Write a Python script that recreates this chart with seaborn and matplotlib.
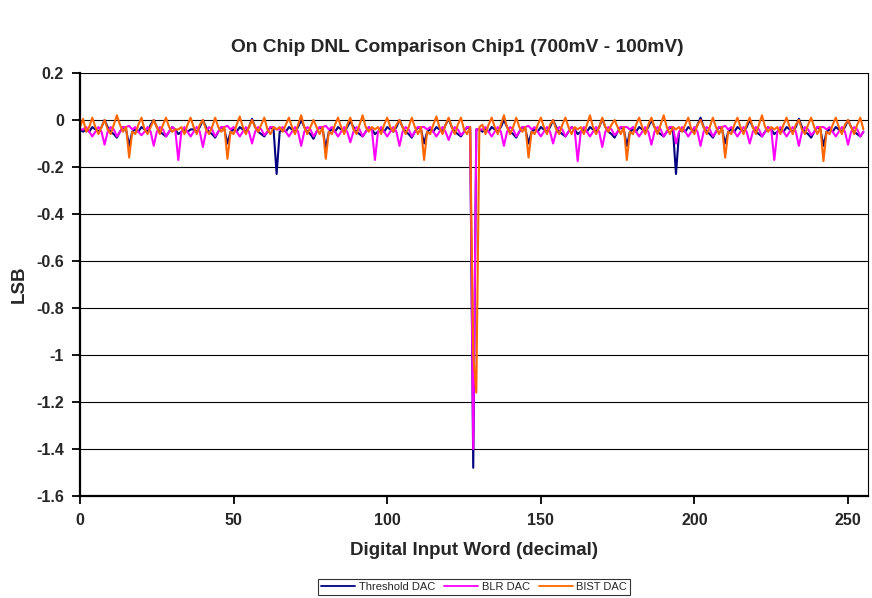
import numpy as np
import pandas as pd
import matplotlib
matplotlib.use("Agg")
import matplotlib.pyplot as plt
import seaborn as sns

# DNL per digital input word (LSB), codes 0..255
codes = list(range(256))

threshold_dac = [
    -0.04, -0.05, -0.04, -0.05, -0.03, -0.04, -0.05, -0.03, 0.00, -0.03, -0.05, -0.06, -0.075, -0.05, -0.03, -0.04,
    -0.11, -0.05, -0.04, -0.05, -0.03, -0.04, -0.05, -0.02, 0.00, -0.03, -0.05, -0.06, -0.07, -0.05, -0.03, -0.04,
    -0.06, -0.05, -0.04, -0.05, -0.04, -0.04, -0.05, -0.03, 0.00, -0.03, -0.05, -0.06, -0.075, -0.05, -0.03, -0.04,
    -0.10, -0.05, -0.04, -0.05, -0.03, -0.04, -0.05, -0.03, 0.005, -0.03, -0.05, -0.06, -0.07, -0.05, -0.03, -0.04,
    -0.23, -0.05, -0.04, -0.05, -0.03, -0.04, -0.05, -0.03, 0.00, -0.03, -0.05, -0.06, -0.08, -0.05, -0.03, -0.04,
    -0.12, -0.05, -0.04, -0.05, -0.03, -0.04, -0.05, -0.03, -0.005, -0.03, -0.05, -0.06, -0.07, -0.05, -0.03, -0.04,
    -0.06, -0.05, -0.04, -0.05, -0.03, -0.04, -0.05, -0.03, 0.00, -0.03, -0.05, -0.06, -0.075, -0.05, -0.03, -0.04,
    -0.10, -0.05, -0.04, -0.05, -0.03, -0.04, -0.05, -0.02, 0.005, -0.03, -0.05, -0.06, -0.07, -0.05, -0.03, -0.04,
    -1.48, -0.04,
    -0.04, -0.05, -0.04, -0.05, -0.03, -0.04, -0.05, -0.03, 0.00, -0.03, -0.05, -0.06, -0.075, -0.05, -0.03, -0.04,
    -0.10, -0.05, -0.04, -0.05, -0.03, -0.04, -0.05, -0.03, 0.00, -0.03, -0.05, -0.06, -0.07, -0.05, -0.03, -0.04,
    -0.06, -0.05, -0.04, -0.05, -0.03, -0.04, -0.05, -0.03, 0.005, -0.03, -0.05, -0.06, -0.075, -0.05, -0.03, -0.04,
    -0.11, -0.05, -0.04, -0.05, -0.03, -0.04, -0.05, -0.03, 0.00, -0.03, -0.05, -0.06, -0.07, -0.05, -0.03, -0.04,
    -0.23, -0.05, -0.04, -0.05, -0.03, -0.04, -0.05, -0.02, 0.01, -0.03, -0.05, -0.06, -0.075, -0.05, -0.03, -0.04,
    -0.10, -0.05, -0.04, -0.05, -0.03, -0.04, -0.05, -0.03, 0.00, -0.03, -0.05, -0.06, -0.07, -0.05, -0.03, -0.04,
    -0.06, -0.05, -0.04, -0.05, -0.03, -0.04, -0.05, -0.03, 0.005, -0.03, -0.05, -0.06, -0.075, -0.05, -0.03, -0.04,
    -0.11, -0.05, -0.04, -0.05, -0.03, -0.04, -0.05, -0.03, 0.00, -0.03, -0.05, -0.06, -0.07, -0.05,
]

blr_dac = [
    -0.04, -0.04, -0.03, -0.05, -0.07, -0.05, -0.03, -0.05, -0.105, -0.05, -0.03, -0.04, -0.07, -0.05, -0.03, -0.03,
    -0.025, -0.04, -0.03, -0.05, -0.065, -0.05, -0.03, -0.05, -0.11, -0.05, -0.03, -0.04, -0.07, -0.05, -0.03, -0.04,
    -0.17, -0.05, -0.03, -0.05, -0.07, -0.05, -0.03, -0.05, -0.115, -0.05, -0.03, -0.04, -0.07, -0.05, -0.03, -0.03,
    -0.025, -0.04, -0.03, -0.05, -0.07, -0.05, -0.03, -0.05, -0.10, -0.05, -0.03, -0.04, -0.065, -0.05, -0.03, -0.03,
    -0.04, -0.04, -0.03, -0.05, -0.07, -0.05, -0.03, -0.05, -0.11, -0.05, -0.03, -0.04, -0.07, -0.05, -0.03, -0.03,
    -0.025, -0.04, -0.03, -0.05, -0.07, -0.05, -0.03, -0.05, -0.095, -0.05, -0.03, -0.04, -0.07, -0.05, -0.03, -0.04,
    -0.17, -0.05, -0.03, -0.05, -0.07, -0.05, -0.03, -0.05, -0.11, -0.05, -0.03, -0.04, -0.07, -0.05, -0.03, -0.03,
    -0.03, -0.04, -0.03, -0.05, -0.07, -0.05, -0.03, -0.05, -0.085, -0.05, -0.03, -0.04, -0.065, -0.05, -0.03, -0.03,
    -1.40, -0.04,
    -0.04, -0.04, -0.03, -0.05, -0.07, -0.05, -0.03, -0.05, -0.11, -0.05, -0.03, -0.04, -0.07, -0.05, -0.03, -0.03,
    -0.025, -0.04, -0.03, -0.05, -0.07, -0.05, -0.03, -0.05, -0.10, -0.05, -0.03, -0.04, -0.07, -0.05, -0.03, -0.04,
    -0.175, -0.05, -0.03, -0.05, -0.07, -0.05, -0.03, -0.05, -0.115, -0.05, -0.03, -0.04, -0.065, -0.05, -0.03, -0.03,
    -0.03, -0.04, -0.03, -0.05, -0.07, -0.05, -0.03, -0.05, -0.105, -0.05, -0.03, -0.04, -0.07, -0.05, -0.03, -0.03,
    -0.10, -0.05, -0.03, -0.05, -0.07, -0.05, -0.03, -0.05, -0.11, -0.05, -0.03, -0.04, -0.07, -0.05, -0.03, -0.03,
    -0.025, -0.04, -0.03, -0.05, -0.07, -0.05, -0.03, -0.05, -0.10, -0.05, -0.03, -0.04, -0.07, -0.05, -0.03, -0.04,
    -0.17, -0.05, -0.03, -0.05, -0.07, -0.05, -0.03, -0.05, -0.11, -0.05, -0.03, -0.04, -0.065, -0.05, -0.03, -0.03,
    -0.03, -0.04, -0.03, -0.05, -0.07, -0.05, -0.03, -0.05, -0.105, -0.05, -0.03, -0.04, -0.07, -0.05,
]

bist_dac = [
    -0.03, 0.005, -0.05, -0.03, 0.01, -0.03, -0.06, -0.03, 0.00, -0.04, -0.06, -0.02, 0.02, -0.02, -0.05, -0.03,
    -0.16, -0.05, -0.06, -0.02, 0.01, -0.04, -0.06, -0.03, 0.00, -0.03, -0.06, -0.02, 0.01, -0.03, -0.05, -0.04,
    -0.04, -0.03, -0.06, -0.02, 0.01, -0.03, -0.06, -0.02, 0.00, -0.04, -0.06, -0.03, 0.01, -0.03, -0.05, -0.03,
    -0.165, -0.05, -0.06, -0.02, 0.015, -0.03, -0.06, -0.03, 0.00, -0.03, -0.05, -0.02, 0.01, -0.04, -0.06, -0.03,
    -0.04, -0.03, -0.05, -0.02, 0.01, -0.03, -0.06, -0.02, 0.02, -0.03, -0.06, -0.03, 0.00, -0.03, -0.06, -0.03,
    -0.165, -0.05, -0.06, -0.02, 0.01, -0.03, -0.06, -0.02, 0.01, -0.04, -0.06, -0.02, 0.02, -0.03, -0.05, -0.03,
    -0.04, -0.03, -0.06, -0.02, 0.01, -0.03, -0.05, -0.02, 0.00, -0.03, -0.06, -0.03, 0.01, -0.03, -0.06, -0.03,
    -0.17, -0.05, -0.06, -0.02, 0.015, -0.03, -0.06, -0.02, 0.01, -0.03, -0.06, -0.02, 0.01, -0.04, -0.06, -0.03,
    -1.00, -1.16,
    -0.03, -0.02, -0.06, -0.02, 0.01, -0.03, -0.06, -0.02, 0.02, -0.03, -0.06, -0.03, 0.01, -0.03, -0.05, -0.03,
    -0.16, -0.05, -0.06, -0.02, 0.01, -0.03, -0.06, -0.02, 0.00, -0.04, -0.06, -0.02, 0.01, -0.03, -0.06, -0.03,
    -0.04, -0.03, -0.06, -0.02, 0.02, -0.03, -0.06, -0.03, 0.01, -0.03, -0.05, -0.02, 0.00, -0.03, -0.06, -0.03,
    -0.17, -0.05, -0.06, -0.02, 0.01, -0.03, -0.06, -0.02, 0.01, -0.03, -0.06, -0.02, 0.02, -0.03, -0.06, -0.03,
    -0.04, -0.03, -0.05, -0.02, 0.01, -0.04, -0.06, -0.02, 0.00, -0.03, -0.06, -0.03, 0.01, -0.03, -0.06, -0.03,
    -0.16, -0.05, -0.06, -0.02, 0.01, -0.03, -0.06, -0.02, 0.01, -0.03, -0.06, -0.02, 0.02, -0.03, -0.05, -0.03,
    -0.04, -0.03, -0.06, -0.02, 0.01, -0.03, -0.06, -0.02, 0.00, -0.04, -0.06, -0.02, 0.01, -0.03, -0.06, -0.03,
    -0.175, -0.05, -0.06, -0.02, 0.01, -0.03, -0.06, -0.02, 0.00, -0.03, -0.06, -0.02, 0.01, -0.04,
]

series_names = ["Threshold DAC", "BLR DAC", "BIST DAC"]
series_colors = ["#000080", "#FF00FF", "#FF6600"]

y_ticks = [0.2, 0, -0.2, -0.4, -0.6, -0.8, -1, -1.2, -1.4, -1.6]
y_tick_labels = ["0.2", "0", "-0.2", "-0.4", "-0.6", "-0.8", "-1", "-1.2", "-1.4", "-1.6"]
x_ticks = [0, 50, 100, 150, 200, 250]

df = pd.concat(
    [
        pd.DataFrame({"code": codes, "dnl": vals, "series": name})
        for name, vals in zip(series_names, [threshold_dac, blr_dac, bist_dac])
    ],
    ignore_index=True,
)

sns.set_theme(style="white")
plt.rcParams["font.family"] = ["Liberation Sans", "DejaVu Sans"]

fig = plt.figure(figsize=(8.72, 5.98), dpi=100)
ax = fig.add_axes([80 / 872, 1 - 496 / 598, 788 / 872, 423 / 598])

sns.lineplot(
    data=df, x="code", y="dnl", hue="series", hue_order=series_names,
    palette=dict(zip(series_names, series_colors)), estimator=None, sort=False,
    linewidth=1.5, ax=ax, legend=False,
)

ax.set_xlim(0, 256.5)
ax.set_ylim(-1.6, 0.2)
ax.set_yticks(y_ticks)
ax.set_yticklabels(y_tick_labels)
ax.set_xticks(x_ticks)
for ytk in y_ticks[:-1]:
    ax.axhline(ytk, color="black", linewidth=0.8, zorder=0)

ax.spines["top"].set_visible(False)
ax.spines["right"].set_color("black")
ax.spines["right"].set_linewidth(0.8)
for side in ["left", "bottom"]:
    ax.spines[side].set_color("black")
    ax.spines[side].set_linewidth(1.6)

ax.tick_params(axis="both", which="major", direction="out", length=5.5, width=1.3,
               color="black", labelsize=11.5, left=True, bottom=True)
ax.tick_params(axis="y", pad=6)
ax.tick_params(axis="x", pad=7)
for lbl in ax.get_xticklabels() + ax.get_yticklabels():
    lbl.set_fontweight("bold")

ax.set_xlabel("Digital Input Word (decimal)", fontsize=13.5, fontweight="bold", labelpad=10)
ax.set_ylabel("LSB", fontsize=13.5, fontweight="bold", labelpad=6)
fig.text(457 / 872, 1 - 47 / 598, "On Chip DNL Comparison Chip1 (700mV - 100mV)",
         ha="center", va="center", fontsize=13.8, fontweight="bold")

handles = [plt.Line2D([], [], color=c, linewidth=1.3) for c in series_colors]
leg = fig.legend(handles, series_names, loc="center", bbox_to_anchor=(474 / 872, 1 - 587 / 598),
                 ncol=3, fontsize=8, frameon=True, fancybox=False, handlelength=3.1,
                 handletextpad=0.3, columnspacing=0.8, borderpad=0.25, borderaxespad=0)
leg.get_frame().set_edgecolor("black")
leg.get_frame().set_linewidth(0.8)

fig.savefig("out.png", dpi=100)
